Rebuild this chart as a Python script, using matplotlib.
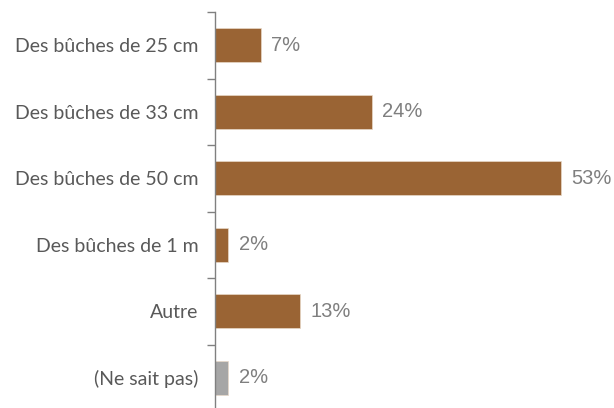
import matplotlib
matplotlib.use("Agg")
import matplotlib.pyplot as plt

categories = ["Des bûches de 25 cm", "Des bûches de 33 cm", "Des bûches de 50 cm",
              "Des bûches de 1 m", "Autre", "(Ne sait pas)"]
values = [7, 24, 53, 2, 13, 2]
labels = ["7%", "24%", "53%", "2%", "13%", "2%"]
colors = ["#9A6434"] * 5 + ["#A6A6A6"]

fig = plt.figure(figsize=(6.14, 4.08), dpi=100)
xmax = 60
left_px, right_px = 215, 215 + 6.53 * xmax
top_px, bot_px = 12, 411
ax = fig.add_axes([left_px / 614, 1 - bot_px / 408, (right_px - left_px) / 614, (bot_px - top_px) / 408])
ax.set_facecolor("none")

n = len(categories)
ypos = list(range(n))
ax.barh(ypos, values, height=0.51, color=colors, edgecolor="#E8D8C8", linewidth=0.5)
for y, v, lab in zip(ypos, values, labels):
    ax.text(v + 1.6, y, lab, va="center", ha="left", fontsize=14.5,
            color="#7F7F7F", family="Liberation Sans")

ax.set_xlim(0, xmax)
ax.set_ylim(n - 0.5, -0.5)
ax.set_yticks(ypos)
ax.set_yticklabels(categories, fontsize=14, color="#595959", family="Lato")
ax.tick_params(axis="y", which="major", length=0, pad=12)
ax.set_yticks([i - 0.5 for i in range(n)], minor=True)
ax.tick_params(axis="y", which="minor", length=6, color="#808080", width=1)
ax.set_xticks([])
for s in ["top", "right", "bottom"]:
    ax.spines[s].set_visible(False)
ax.spines["left"].set_color("#808080")
ax.spines["left"].set_linewidth(1)

fig.savefig("out.png", dpi=100)
